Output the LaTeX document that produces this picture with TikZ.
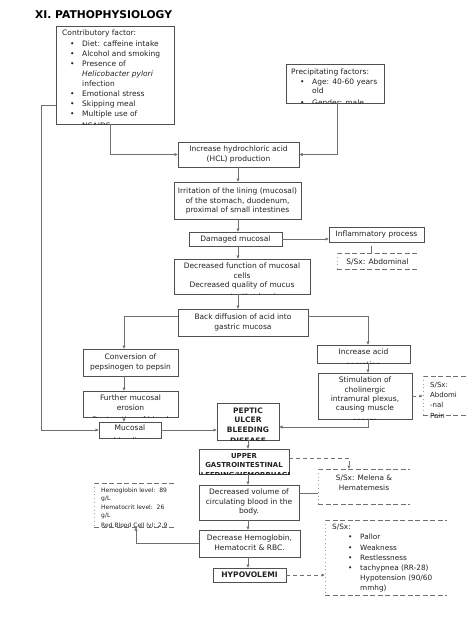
\documentclass[tikz,border=0pt]{standalone}
\usepackage{fontspec}
\setmainfont{DejaVu Sans}
\usetikzlibrary{fit,calc,arrows.meta}
\definecolor{boxc}{HTML}{505050}
\definecolor{linec}{HTML}{707070}
\definecolor{lightc}{HTML}{A0A0A0}
\definecolor{txtc}{HTML}{222222}
\tikzset{
  box/.style={draw=boxc, line width=0.7pt, fill=white, inner sep=0pt, outer sep=0pt},
  ghost/.style={inner sep=0pt, outer sep=0pt},
  txt/.style={inner sep=0pt, align=center, text=txtc, font=\fontsize{7.5}{9.3}\selectfont},
  btxt/.style={txt, font=\fontsize{7.5}{9.4}\selectfont\bfseries},
  conn/.style={draw=linec, line width=0.6pt},
  arr/.style={-{Latex[length=3.5pt,width=3.3pt]}},
  dconn/.style={draw=linec, line width=0.7pt, dash pattern=on 4pt off 3pt},
  dashline/.style={draw=linec, line width=0.8pt, dash pattern=on 5pt off 2.5pt},
  dotline/.style={draw=lightc, line width=0.5pt, dash pattern=on 0.8pt off 3pt},
}
% clipped box, text centred at top
\newcommand\cbox[8][txt]{%
  \coordinate (#2-nw) at (#3,#4);
  \coordinate (#2-se) at (#5,#6);
  \node[box, fit=(#2-nw)(#2-se)] (#2) {};
  \begin{scope}
    \clip (#2-nw) rectangle (#2-se);
    \node[#1, anchor=north] at ($(#2.north)+(0,#7)$) {#8};
  \end{scope}}
% clipped box, text left aligned
\newcommand\lcbox[9][txt]{%
  \coordinate (#2-nw) at (#3,#4);
  \coordinate (#2-se) at (#5,#6);
  \node[box, fit=(#2-nw)(#2-se)] (#2) {};
  \begin{scope}
    \clip (#2-nw) rectangle (#2-se);
    \node[#1, anchor=north west, align=left] at ($(#2.north west)+(#7,#8)$) {#9};
  \end{scope}}
% dashed text box
\newcommand\dbox[9][txt]{%
  \coordinate (#2-nw) at (#3,#4);
  \coordinate (#2-se) at (#5,#6);
  \node[ghost, fit=(#2-nw)(#2-se)] (#2) {};
  \draw[dashline] (#2.north west) -- (#2.north east);
  \draw[dashline] (#2.south west) -- (#2.south east);
  \draw[dotline] (#2.north west) -- (#2.south west);
  \begin{scope}
    \clip ($(#2-nw)+(0,-1)$) rectangle ($(#2-se)+(0,2)$);
    \node[#1] at ($(#2.north west)+(#7,#8)$) {#9};
  \end{scope}}
\newcommand\myb{\hspace*{8pt}\makebox[12pt][l]{\textbullet}}
\newcommand\myi{\hspace*{20pt}}
\newcommand\mybb{\hspace*{9pt}\makebox[12pt][l]{\textbullet}}
\newcommand\myib{\hspace*{21pt}}
\newcommand\mybc{\hspace*{16pt}\makebox[12pt][l]{\textbullet}}
\newcommand\myic{\hspace*{28pt}}

\begin{document}
\begin{tikzpicture}[x=1pt,y=-1pt]
\fill[white] (0,0) rectangle (474,632);
\useasboundingbox (0,0) rectangle (474,632);

\node[font=\fontsize{10.7}{12}\selectfont\bfseries, anchor=base west, inner sep=0pt, text=black] (title) at (35,18.5) {XI. PATHOPHYSIOLOGY};

% ---- boxes ----
\lcbox[txt, font=\fontsize{7.5}{10.1}\selectfont]{contrib}{56}{26}{174}{124}{6}{4}{Contributory factor:\\
\myb Diet: caffeine intake\\
\myb Alcohol and smoking\\
\myb Presence of\\
\myi\textit{Helicobacter pylori}\\
\myi infection\\
\myb Emotional stress\\
\myb Skipping meal\\
\myb Multiple use of\\[1.5pt]
\myi NSAIDS}

\lcbox[txt, font=\fontsize{7.5}{9.5}\selectfont]{precip}{286}{64}{384}{103}{5}{5}{Precipitating factors:\\
\mybb Age: 40-60 years\\
\myib old\\[2.5pt]
\mybb Gender: male}

\cbox{hcl}{178}{142}{299}{167}{4}{Increase hydrochloric acid\\(HCL) production}
\cbox{irr}{174}{182}{301}{219}{6}{Irritation of the lining (mucosal)\\of the stomach, duodenum,\\proximal of small intestines}
\cbox{damaged}{189}{232}{282}{246}{4}{Damaged mucosal}
\cbox{inflam}{329}{227}{424}{242}{3.5}{Inflammatory process}
\cbox{decfn}{174}{259}{310}{294}{4}{Decreased function of mucosal\\cells\\Decreased quality of mucus\\[2.5pt]as a protective barrier}
\cbox{back}{178}{309}{308}{336}{5}{Back diffusion of acid into\\gastric mucosa}
\cbox{conv}{83}{349}{178}{376}{5}{Conversion of\\pepsinogen to pepsin}
\cbox{further}{83}{391}{178}{417}{4}{Further mucosal\\erosion\\[3pt]Destruction of blood}
\cbox{mucosal}{99}{422}{161}{438}{3}{Mucosal\\[3pt]bleeding}
\cbox{incacid}{317}{345}{410}{363}{4}{Increase acid\\[3pt]secretion}
\cbox{stim}{318}{373}{412}{419}{4}{Stimulation of\\cholinergic\\intramural plexus,\\causing muscle\\[3pt]spasm}
\cbox[btxt]{peptic}{217}{403}{279}{440}{4.5}{PEPTIC\\ULCER\\BLEEDING\\[2.5pt]DISEASE}
\cbox[btxt, font=\fontsize{6.9}{8.6}\selectfont\bfseries]{upper}{199}{449}{289}{474}{4.5}{UPPER\\GASTROINTESTINAL\\[2pt]BLEEDING/HEMORRHAGE}
\cbox{decvol}{199}{485}{299}{520}{4}{Decreased volume of\\circulating blood in the\\body.}
\cbox{dechb}{199}{530}{300}{557}{5}{Decrease Hemoglobin,\\Hematocrit \& RBC.}
\cbox[btxt, font=\fontsize{7.6}{9}\selectfont\bfseries]{hypo}{213}{568}{286}{582}{4}{HYPOVOLEMI}

% ---- dashed text boxes ----
\dbox[txt, anchor=north]{ssxA}{337}{253}{418}{269}{40.5}{6}{S/Sx: Abdominal}
\dbox[txt, anchor=north west, align=left, font=\fontsize{7}{9.8}\selectfont]{ssxB}{423}{376}{467}{415}{7}{6}{S/Sx:\\Abdomi\\-nal\\[1.5pt]Pain}
\dbox[txt, anchor=north, font=\fontsize{7.3}{9.8}\selectfont]{melena}{318}{469}{410}{504}{46}{6}{S/Sx: Melena \&\\Hematemesis}
\dbox[txt, anchor=north west, align=left, font=\fontsize{6}{8.2}\selectfont]{hemo}{94}{483}{174}{527}{7}{5}{Hemoglobin level:~~89\\g/L\\Hematocrit level:~~26\\g/L\\[1.5pt]Red Blood Cell lvl: 2.9}
\dbox[txt, anchor=north west, align=left, font=\fontsize{7.3}{10.2}\selectfont]{ssxC}{325}{520}{447}{595}{7}{4}{S/Sx:\\
\mybc Pallor\\
\mybc Weakness\\
\mybc Restlessness\\
\mybc tachypnea (RR-28)\\
\myic Hypotension (90/60\\
\myic mmhg)}

% ---- connectors ----
\coordinate (ax) at (238,0);
\coordinate (bx) at (248,0);
\draw[conn,arr] (hcl.south -| ax) -- (irr.north -| ax);
\draw[conn,arr] (irr.south -| ax) -- (damaged.north -| ax);
\draw[conn,arr] (damaged.south -| ax) -- (decfn.north -| ax);
\draw[conn,arr] (decfn.south -| ax) -- (back.north -| ax);
\draw[conn,arr] (peptic.south -| bx) -- (upper.north -| bx);
\draw[conn,arr] (upper.south -| bx) -- (decvol.north -| bx);
\draw[conn,arr] (decvol.south -| bx) -- (dechb.north -| bx);
\draw[conn,arr] (dechb.south -| bx) -- (hypo.north -| bx);

\coordinate (c1) at (110,154);
\draw[conn,arr] (contrib.south -| c1) |- (hcl.west);
\coordinate (px) at (337,0);
\draw[conn,arr] (precip.south -| px) |- (hcl.east);
\coordinate (lb) at (41,105);
\draw[conn,arr] (contrib.west |- lb) -- (lb) |- (mucosal.west);
\draw[conn,arr] (damaged.east) -- (inflam.west |- damaged.east);
\coordinate (tk) at (371,246);
\draw[conn] (tk) -- (tk |- ssxA.north);

\coordinate (cx) at (124,316);
\draw[conn,arr] (back.west |- cx) -| (conv.north -| cx);
\draw[conn,arr] (conv.south -| cx) -- (further.north -| cx);
\draw[conn,arr] (further.south -| cx) -- (mucosal.north -| cx);
\coordinate (dx1) at (368,316);
\draw[conn,arr] (back.east |- dx1) -| (incacid.north -| dx1);
\draw[conn,arr] (incacid.south -| dx1) -- (stim.north -| dx1);
\coordinate (py) at (368,427);
\draw[conn,arr] (stim.south -| py) -- (py) -- (peptic.east |- py);
\draw[conn,arr] (mucosal.east) -- (peptic.west |- mucosal.east);
\draw[dconn,arr] (stim.east) -- (ssxB.west |- stim.east);

\coordinate (uy) at (349,458);
\draw[dconn,arr] (upper.east |- uy) -| (melena.north -| uy);
\coordinate (my) at (0,493);
\draw[conn] (decvol.east |- my) -- (melena.west |- my);
\coordinate (hx) at (136,0);
\draw[conn,arr] (dechb.west) -| (hemo.south -| hx);
\draw[dconn,arr] (hypo.east) -- (ssxC.west |- hypo.east);
\end{tikzpicture}
\end{document}
